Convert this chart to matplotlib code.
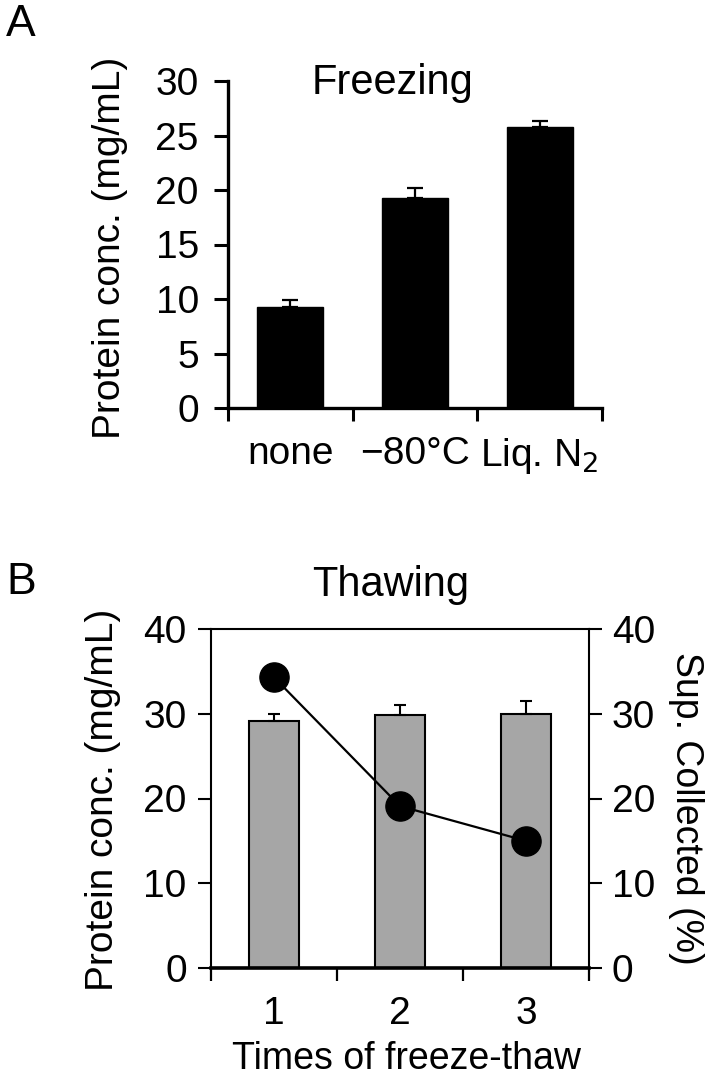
import matplotlib
matplotlib.use("Agg")
import matplotlib.pyplot as plt
import numpy as np

plt.rcParams['font.family'] = ['Liberation Sans', 'DejaVu Sans']

# Panel A data
freeze_labels = ["none", "\u221280\u00b0C", "Liq. N$_2$"]
freeze_conc = [9.3, 19.3, 25.8]
freeze_err = [0.6, 0.9, 0.5]

# Panel B data
thaw_labels = ["1", "2", "3"]
thaw_conc = [29.1, 29.9, 30.0]
thaw_err = [0.85, 1.1, 1.5]
sup_collected = [34.3, 19.1, 15.0]

W, H = 707, 1076
fig = plt.figure(figsize=(W / 100, H / 100), dpi=100)

def px_axes(x0, x1, y_top, y_bot):
    return fig.add_axes([x0 / W, 1 - y_bot / H, (x1 - x0) / W, (y_bot - y_top) / H])

FS = 28
TFS = 30

# ---------- Panel A ----------
axA = px_axes(228, 602, 81, 408)
xa = np.arange(1, len(freeze_conc) + 1)
axA.bar(xa, freeze_conc, width=0.53, color="black", edgecolor="black")
axA.errorbar(xa, freeze_conc, yerr=[np.zeros(3), freeze_err], fmt="none",
             ecolor="black", elinewidth=1.6, capsize=5.5, capthick=1.6)
axA.set_xlim(0.5, 3.5)
axA.set_ylim(0, 30)
axA.set_yticks(np.arange(0, 31, 5))
axA.set_xticks([0.5, 1.5, 2.5, 3.5])
axA.set_xticklabels([])
axA.set_xticks(xa, minor=True)
axA.set_xticklabels(freeze_labels, minor=True)
axA.tick_params(axis="x", which="minor", length=0, pad=20, labelsize=FS)
axA.tick_params(axis="x", which="major", length=9, width=2.2, direction="out")
axA.tick_params(axis="y", length=10, width=2.2, labelsize=FS, pad=11)
for s in ["top", "right"]:
    axA.spines[s].set_visible(False)
for s in ["left", "bottom"]:
    axA.spines[s].set_linewidth(2.4)

fig.text(392 / W, 1 - 83 / H, "Freezing", ha="center", va="center", fontsize=TFS)
fig.text(110 / W, 1 - 248 / H, "Protein conc. (mg/mL)", rotation=90,
         ha="center", va="center", fontsize=FS)
fig.text(6 / W, 1 - 24 / H, "A", ha="left", va="center", fontsize=32)

# ---------- Panel B ----------
axB = px_axes(211, 589, 629, 968)
xb = np.arange(1, len(thaw_conc) + 1)
axB.bar(xb, thaw_conc, width=0.4, color="#a6a6a6", edgecolor="black", linewidth=1.5)
axB.errorbar(xb, thaw_conc, yerr=[np.zeros(3), thaw_err], fmt="none",
             ecolor="black", elinewidth=1.5, capsize=4.3, capthick=1.5)
axB.set_xlim(0.5, 3.5)
axB.set_ylim(0, 40)
axB.set_yticks(np.arange(0, 41, 10))
axB.set_xticks([0.5, 1.5, 2.5, 3.5])
axB.set_xticklabels([])
axB.set_xticks(xb, minor=True)
axB.set_xticklabels(thaw_labels, minor=True)
axB.tick_params(axis="x", which="minor", length=0, pad=20, labelsize=FS)
axB.tick_params(axis="x", which="major", length=9, width=1.6, direction="out")
axB.tick_params(axis="y", length=9.5, width=1.5, labelsize=FS, pad=8)
for s in ["top", "left", "right"]:
    axB.spines[s].set_linewidth(1.5)
axB.spines["bottom"].set_linewidth(2.6)

axB2 = axB.twinx()
axB2.plot(xb, sup_collected, color="black", linewidth=1.6, marker="o",
          markersize=21, markerfacecolor="black", markeredgecolor="black")
axB2.set_ylim(0, 40)
axB2.set_yticks(np.arange(0, 41, 10))
axB2.tick_params(axis="y", length=9.5, width=1.5, labelsize=FS, pad=7)
for s in ["top", "left", "right", "bottom"]:
    axB2.spines[s].set_visible(False)

fig.text(391 / W, 1 - 585 / H, "Thawing", ha="center", va="center", fontsize=TFS)
fig.text(103 / W, 1 - 800 / H, "Protein conc. (mg/mL)", rotation=90,
         ha="center", va="center", fontsize=FS)
fig.text(686 / W, 1 - 808 / H, "Sup. Collected (%)", rotation=270,
         ha="center", va="center", fontsize=27)
fig.text(407 / W, 1 - 1059 / H, "Times of freeze-thaw", ha="center", va="center",
         fontsize=27)
fig.text(6 / W, 1 - 582 / H, "B", ha="left", va="center", fontsize=32)

fig.savefig("out.png", dpi=100)
